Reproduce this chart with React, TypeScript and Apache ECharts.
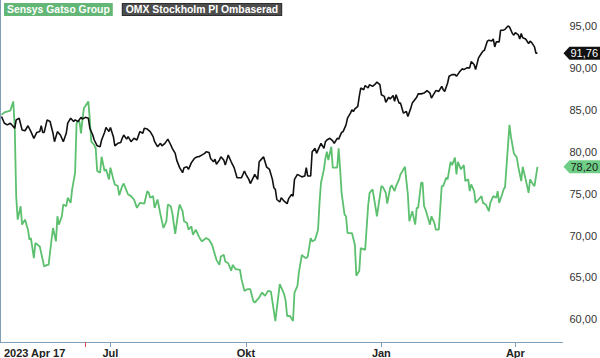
import React, { useEffect, useRef } from "react";
import * as echarts from "echarts";

// Day offsets from 2023-04-17, value (rebased)
const START_DATE = Date.UTC(2023, 3, 17);
const DAY_MS = 86400000;
const AXIS_END_DAY = 382;

const sensysDays = [1,3,7,9,10,11,12,14,15,17,19,20,21,23,24,27,28,30,32,33,35,36,38,39,40,42,43,45,46,48,49,51,52,53,54,55,56,57,60,61,62,64,65,66,68,69,71,72,74,75,77,78,80,81,83,84,87,89,91,93,95,98,100,101,102,104,105,107,109,111,113,114,116,117,119,121,122,124,125,127,128,130,131,133,135,137,140,142,144,146,147,149,150,152,153,155,157,158,160,163,164,166,168,170,172,173,176,178,180,182,184,187,190,193,194,195,197,199,200,202,203,205,206,208,209,211,212,214,216,217,218,220,221,222,223,225,226,229,230,231,232,234,235,236,239,241,242,244,245,248,250,251,253,254,256,257,259,260,262,263,265,266,268,269,271,272,275,277,278,280,282,283,284,286,287,288,289,292,293,295,296,298,300,301,303,304,306,307,309,310,311,313,315,316,318,319,320,322,323,325,327,328,330,332,333,335,337,338,339,341,342,343,346,347,349,351,352,354,355,357,359,360,362,363,365];
const sensysValues = [84.4,84.7,84.9,86.0,83.0,74.7,71.9,73.5,71.3,71.9,70.7,69.5,69.7,67.3,69.1,68.7,67.9,66.3,66.5,66.5,69.5,70.9,69.3,72.3,71.3,72.3,73.7,73.5,74.5,73.9,75.5,77.5,83.4,83.6,83.6,82.2,83.8,85.2,86.0,83.8,81.2,80.8,80.4,77.7,77.5,79.4,77.7,77.9,76.7,78.1,76.7,76.1,75.9,74.8,75.9,76.2,74.9,74.7,74.3,73.3,73.9,73.8,75.3,75.1,74.5,74.7,73.3,74.3,72.5,70.9,71.7,73.7,73.5,72.7,70.2,72.7,73.7,72.9,71.7,71.5,70.7,71.1,70.1,70.7,69.9,69.3,69.7,69.5,68.9,67.7,67.1,66.5,67.5,67.7,66.9,66.7,65.8,66.5,66.0,65.9,64.8,63.4,63.6,63.6,62.2,62.0,62.6,63.2,62.8,63.4,63.3,59.8,64.2,63.0,62.2,60.4,60.4,59.8,63.2,64.0,65.6,67.7,67.5,67.3,67.5,69.7,69.3,69.5,70.7,73.9,76.3,77.9,79.2,80.0,79.0,80.6,78.1,78.1,80.4,77.9,75.1,72.5,72.3,70.3,70.3,68.9,65.2,65.8,68.5,68.3,73.5,75.1,75.5,74.5,72.3,73.5,75.9,75.8,75.1,73.8,75.7,76.0,75.3,75.9,76.7,77.3,78.2,74.9,71.7,72.9,71.3,73.3,73.3,76.3,76.3,73.5,73.1,71.3,72.3,71.5,70.7,70.7,75.9,75.9,76.9,76.7,78.8,78.4,79.3,77.3,78.8,77.9,78.4,76.5,76.7,75.3,76.1,75.3,73.9,74.3,74.7,73.9,73.7,72.9,73.9,74.7,74.5,75.3,73.9,74.9,75.5,75.8,83.2,81.8,79.8,79.3,78.2,76.5,78.2,76.7,75.1,76.7,76.1,75.9,78.2];

const omxDays = [1,3,5,7,9,10,11,13,15,17,19,21,23,25,27,28,29,30,32,34,36,37,39,41,43,45,46,48,50,51,53,55,56,58,60,61,63,64,66,68,69,71,72,74,75,77,78,80,82,83,84,86,87,89,91,93,95,97,98,100,102,104,105,107,109,110,112,114,116,117,119,120,122,124,125,127,128,130,132,134,135,137,139,140,142,143,145,146,147,149,150,152,153,154,155,157,159,161,162,164,166,167,169,170,172,173,175,176,177,179,180,181,183,185,186,187,188,190,191,193,195,196,198,199,200,202,205,207,208,209,211,212,214,215,217,218,220,221,222,224,226,227,229,230,232,233,235,236,238,239,240,241,243,244,245,247,248,250,251,253,255,256,258,259,261,262,264,265,267,268,269,271,272,274,276,277,279,280,283,284,286,288,290,292,293,295,296,298,300,301,302,304,305,307,309,310,312,314,315,317,319,320,322,323,325,327,328,329,331,332,334,335,336,337,339,340,342,343,345,346,348,349,350,352,353,354,355,357,359,360,361,363,364,365];
const omxValues = [84.2,83.4,83.2,83.4,83.0,82.8,83.8,84.0,82.6,82.5,83.1,82.4,81.6,82.3,82.4,83.1,82.3,82.3,83.8,83.6,82.2,81.2,82.4,82.0,81.2,82.2,83.4,84.0,83.6,83.8,83.6,84.1,83.9,84.1,84.0,82.8,82.0,81.4,80.7,80.6,81.4,82.3,82.9,82.4,82.9,81.8,80.7,81.0,81.1,81.6,82.0,81.5,81.8,81.2,81.6,81.4,82.4,82.2,82.8,82.7,82.4,81.8,81.2,80.6,81.0,80.7,81.0,81.5,80.8,80.4,79.8,79.0,78.1,77.5,78.1,78.2,77.9,78.7,79.2,79.4,79.4,79.6,79.8,80.0,79.9,79.2,78.8,79.1,78.5,79.0,79.4,79.0,78.4,79.0,79.6,78.8,78.1,76.9,76.9,76.9,77.7,77.3,76.7,76.2,76.9,77.3,76.7,78.8,79.0,79.4,78.8,78.2,77.9,76.7,75.7,75.5,74.3,74.0,74.5,74.1,73.8,74.4,74.9,74.7,76.7,77.3,77.0,77.1,78.1,77.1,77.1,80.0,80.4,79.8,80.6,81.0,80.4,81.2,81.4,81.6,81.3,81.0,81.6,81.5,82.3,82.4,83.2,84.0,84.6,85.0,84.8,85.1,85.4,86.6,87.6,87.4,87.9,87.6,88.0,87.8,88.1,88.3,88.0,86.8,86.6,85.9,86.5,86.3,86.7,86.0,86.8,85.8,85.8,84.6,84.8,84.2,85.2,85.8,86.5,86.9,86.9,87.0,87.3,87.0,86.4,87.0,87.3,87.2,87.8,87.4,87.2,88.2,89.0,89.2,89.2,89.0,89.5,89.9,89.8,90.0,90.0,90.75,90.4,89.8,91.2,91.75,92.0,92.1,93.2,93.3,93.2,93.45,92.5,93.1,93.1,94.5,94.5,94.6,95.0,94.9,94.1,93.9,94.2,93.95,93.45,94.1,93.6,93.45,92.9,93.2,93.05,92.5,91.75,91.76];

const yTickValues = [60, 65, 70, 75, 80, 85, 90, 95];
const Y_MIN = 57.3;
const Y_MAX = 98.1;

const monthTicks = [
  { date: Date.UTC(2023, 6, 1), label: "Jul" },
  { date: Date.UTC(2023, 9, 1), label: "Okt" },
  { date: Date.UTC(2024, 0, 1), label: "Jan" },
  { date: Date.UTC(2024, 3, 1), label: "Apr" },
];
const firstLabel = "2023 Apr 17";
const eventDate = Date.UTC(2023, 5, 14);

const SENSYS_NAME = "Sensys Gatso Group";
const OMX_NAME = "OMX Stockholm PI Ombaserad";

const GREEN = "#5cc06f";
const BLACK = "#111111";
const AXIS = "#7f9fb8";
const FONT = "Liberation Sans, Arial, sans-serif";

const dayOf = (t: number) => Math.round((t - START_DATE) / DAY_MS);
const toPairs = (days: number[], vals: number[]) => days.map((d, i) => [d, vals[i]]);
const fmt = (v: number) => v.toFixed(2).replace(".", ",");

export default function App() {
  const ref = useRef<HTMLDivElement>(null);

  useEffect(() => {
    document.body.style.margin = "0";
    if (!ref.current) return;
    const chart = echarts.init(ref.current, undefined, { renderer: "svg" });
    const monthDays = monthTicks.map((m) => dayOf(m.date));
    const labelMap: Record<number, string> = {};
    monthTicks.forEach((m) => (labelMap[dayOf(m.date)] = m.label));
    labelMap[0] = firstLabel;

    chart.setOption({
      animation: false,
      grid: { left: 0, right: 34, top: 0, bottom: 16 },
      legend: {
        left: -1,
        top: 3,
        padding: 0,
        itemWidth: 0,
        itemHeight: 0,
        itemGap: 5,
        icon: "none",
        selectedMode: false,
        data: [
          {
            name: SENSYS_NAME,
            textStyle: {
              color: "#ffffff",
              backgroundColor: "#63b675",
              borderColor: "#47b062",
              borderWidth: 0,
              padding: [2, 3, 1, 3],
              fontWeight: "bold",
              fontSize: 10.4,
              fontFamily: FONT,
            },
          },
          {
            name: OMX_NAME,
            textStyle: {
              color: "#ffffff",
              backgroundColor: "#4d4d4d",
              borderColor: "#2e2e2e",
              borderWidth: 1,
              padding: [1, 3, 0, 3],
              fontWeight: "bold",
              fontSize: 10.4,
              fontFamily: FONT,
            },
          },
        ],
      },
      xAxis: [
        {
          type: "value",
          min: 0,
          max: AXIS_END_DAY,
          axisLine: { show: true, lineStyle: { color: AXIS, width: 1 } },
          axisTick: {
            show: true,
            length: 5,
            customValues: monthDays,
            lineStyle: { color: AXIS },
          },
          axisLabel: {
            customValues: [0, ...monthDays],
            alignMinLabel: "left",
            formatter: (v: number) =>
              v === 0 ? "{first|" + labelMap[v] + "}" : labelMap[v] || "",
            rich: { first: { padding: [0, 0, 0, 4], fontWeight: "bold", fontSize: 11, color: "#222", fontFamily: FONT } },
            color: "#222",
            fontWeight: "bold",
            fontSize: 11,
            fontFamily: FONT,
            margin: 5,
          },
          splitLine: { show: false },
        },
        {
          type: "value",
          min: 0,
          max: AXIS_END_DAY,
          position: "bottom",
          axisLine: { show: false },
          axisTick: {
            show: true,
            length: 5,
            customValues: [dayOf(eventDate)],
            lineStyle: { color: "#e05050" },
          },
          axisLabel: { show: false },
          splitLine: { show: false },
        },
      ],
      yAxis: {
        type: "value",
        position: "right",
        min: Y_MIN,
        max: Y_MAX,
        axisLine: { show: true, lineStyle: { color: AXIS, width: 1 } },
        axisTick: { show: false },
        splitLine: { show: false },
        axisLabel: {
          customValues: yTickValues,
          formatter: (v: number) => fmt(v),
          color: "#333",
          fontSize: 11,
          fontFamily: FONT,
          margin: 7,
        },
      },
      series: [
        {
          name: SENSYS_NAME,
          type: "line",
          data: toPairs(sensysDays, sensysValues),
          showSymbol: false,
          symbol: "none",
          lineStyle: { color: GREEN, width: 1.8 },
          itemStyle: { color: GREEN },
          z: 2,
        },
        {
          name: OMX_NAME,
          type: "line",
          data: toPairs(omxDays, omxValues),
          showSymbol: false,
          symbol: "none",
          lineStyle: { color: BLACK, width: 1.6 },
          itemStyle: { color: BLACK },
          z: 3,
        },
      ],
    });

    const tag = (value: number, bg: string, fg: string) => {
      const y = chart.convertToPixel({ yAxisIndex: 0 }, value) as number;
      const x0 = chart.convertToPixel({ xAxisIndex: 0 }, AXIS_END_DAY) as number;
      const h = 6.5;
      return {
        type: "group",
        children: [
          {
            type: "polygon",
            shape: {
              points: [
                [x0 + 1, y],
                [x0 + 7, y - h],
                [600, y - h],
                [600, y + h],
                [x0 + 7, y + h],
              ],
            },
            style: { fill: bg },
          },
          {
            type: "text",
            x: x0 + 8,
            y: y,
            style: {
              text: fmt(value),
              fill: fg,
              font: "11px " + FONT,
              verticalAlign: "middle",
              align: "left",
            },
          },
        ],
      };
    };

    chart.setOption({
      graphic: [
        tag(omxValues[omxValues.length - 1], "#111111", "#ffffff"),
        tag(sensysValues[sensysValues.length - 1], "#6fce86", "#1a1a1a"),
      ],
    });

    return () => chart.dispose();
  }, []);

  return <div ref={ref} style={{ width: 600, height: 358 }} />;
}
